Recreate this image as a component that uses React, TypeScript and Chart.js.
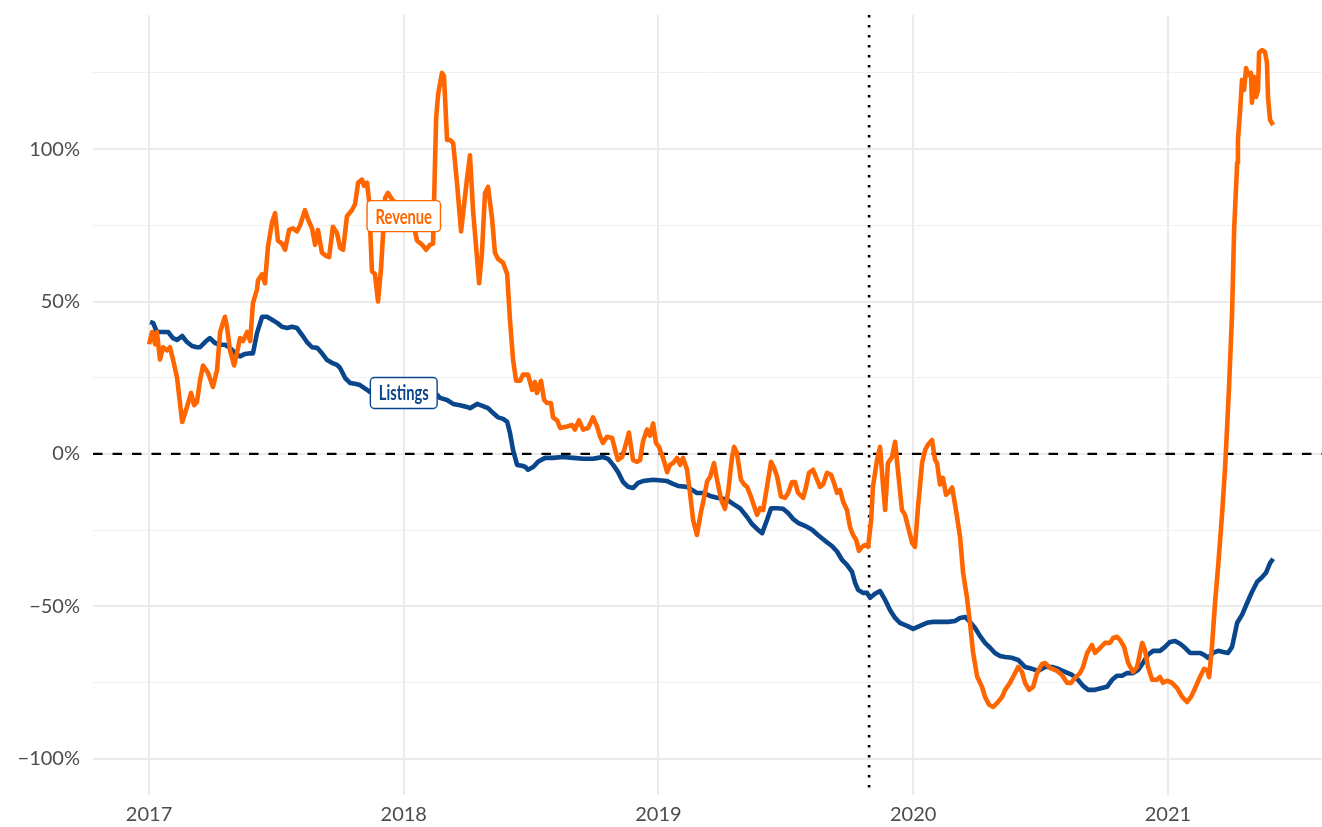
import { useEffect, useRef } from 'react';
import { Chart, registerables } from 'chart.js';

Chart.register(...registerables);

// ---- data (dates as decimal years, values in %) ----
const revenueDates = [
  2017.000, 2017.012, 2017.024, 2017.031, 2017.043, 2017.055, 2017.071, 2017.082, 2017.094, 2017.110,
  2017.130, 2017.149, 2017.165, 2017.177, 2017.188, 2017.200, 2017.212, 2017.232, 2017.251, 2017.267,
  2017.279, 2017.298, 2017.306, 2017.318, 2017.334, 2017.345, 2017.357, 2017.369, 2017.385, 2017.397,
  2017.408, 2017.424, 2017.428, 2017.444, 2017.455, 2017.467, 2017.483, 2017.495, 2017.506, 2017.522,
  2017.534, 2017.550, 2017.565, 2017.581, 2017.593, 2017.612, 2017.624, 2017.640, 2017.652, 2017.663,
  2017.679, 2017.695, 2017.707, 2017.722, 2017.738, 2017.750, 2017.762, 2017.777, 2017.797, 2017.809,
  2017.821, 2017.836, 2017.844, 2017.856, 2017.864, 2017.875, 2017.887, 2017.899, 2017.911, 2017.927,
  2017.938, 2017.958, 2017.985, 2018.013, 2018.036, 2018.052, 2018.072, 2018.088, 2018.103, 2018.115,
  2018.127, 2018.135, 2018.150, 2018.158, 2018.170, 2018.182, 2018.194, 2018.209, 2018.225, 2018.233,
  2018.248, 2018.260, 2018.272, 2018.288, 2018.296, 2018.307, 2018.319, 2018.331, 2018.347, 2018.358,
  2018.370, 2018.390, 2018.406, 2018.417, 2018.429, 2018.441, 2018.457, 2018.468, 2018.488, 2018.504,
  2018.515, 2018.523, 2018.539, 2018.551, 2018.563, 2018.578, 2018.586, 2018.602, 2018.614, 2018.641,
  2018.661, 2018.672, 2018.688, 2018.704, 2018.724, 2018.743, 2018.759, 2018.771, 2018.782, 2018.798,
  2018.818, 2018.830, 2018.841, 2018.857, 2018.869, 2018.884, 2018.900, 2018.916, 2018.928, 2018.939,
  2018.955, 2018.967, 2018.979, 2018.990, 2019.002, 2019.018, 2019.034, 2019.045, 2019.057, 2019.073,
  2019.085, 2019.096, 2019.112, 2019.124, 2019.136, 2019.151, 2019.167, 2019.175, 2019.191, 2019.203,
  2019.218, 2019.230, 2019.246, 2019.261, 2019.273, 2019.289, 2019.297, 2019.308, 2019.324, 2019.336,
  2019.348, 2019.363, 2019.375, 2019.387, 2019.399, 2019.411, 2019.426, 2019.442, 2019.454, 2019.466,
  2019.481, 2019.497, 2019.509, 2019.524, 2019.536, 2019.548, 2019.568, 2019.579, 2019.591, 2019.607,
  2019.623, 2019.634, 2019.646, 2019.662, 2019.678, 2019.689, 2019.701, 2019.713, 2019.725, 2019.740,
  2019.752, 2019.764, 2019.776, 2019.787, 2019.799, 2019.811, 2019.823, 2019.835, 2019.842, 2019.858,
  2019.870, 2019.882, 2019.890, 2019.901, 2019.917, 2019.929, 2019.941, 2019.956, 2019.968, 2019.980,
  2019.996, 2020.007, 2020.019, 2020.035, 2020.047, 2020.058, 2020.074, 2020.086, 2020.094, 2020.105,
  2020.117, 2020.129, 2020.141, 2020.153, 2020.168, 2020.184, 2020.196, 2020.211, 2020.223, 2020.235,
  2020.251, 2020.270, 2020.282, 2020.298, 2020.314, 2020.333, 2020.349, 2020.361, 2020.380, 2020.392,
  2020.412, 2020.427, 2020.439, 2020.455, 2020.471, 2020.486, 2020.506, 2020.518, 2020.537, 2020.565,
  2020.584, 2020.604, 2020.620, 2020.635, 2020.655, 2020.667, 2020.683, 2020.702, 2020.714, 2020.734,
  2020.753, 2020.773, 2020.785, 2020.800, 2020.812, 2020.828, 2020.844, 2020.863, 2020.879, 2020.899,
  2020.910, 2020.922, 2020.938, 2020.957, 2020.969, 2020.981, 2020.997, 2021.016, 2021.036, 2021.056,
  2021.075, 2021.091, 2021.107, 2021.126, 2021.142, 2021.154, 2021.162, 2021.173, 2021.185, 2021.197,
  2021.213, 2021.224, 2021.232, 2021.240, 2021.252, 2021.260, 2021.272, 2021.275, 2021.283, 2021.291,
  2021.299, 2021.307, 2021.315, 2021.326, 2021.330, 2021.338, 2021.346, 2021.354, 2021.358, 2021.370,
  2021.381, 2021.389, 2021.393, 2021.401, 2021.413,
];

const revenueValues = [
  36, 40, 36, 40, 31, 35, 34, 35, 31, 25,
  10.5, 15.4, 20, 16, 17, 24, 29, 26.5, 22, 27.5,
  40, 45, 41.7, 34, 29, 33, 38, 37, 40, 37,
  49.5, 54, 57, 59, 56, 68, 76, 79, 70, 69,
  67, 73.5, 74, 73, 75, 80, 77, 74, 68.6, 73.5,
  66, 65, 64.6, 74.5, 72.5, 67.6, 67, 78, 80, 82,
  89, 90, 88, 89, 83, 60, 59, 50, 61, 84,
  85.6, 83, 82, 82, 76, 70, 68.6, 67, 68.6, 69,
  110, 118, 125, 124, 103, 103, 102, 89, 73, 79,
  90, 98, 80, 64, 56, 66, 85.6, 87.6, 77, 66,
  64, 62.7, 59, 44, 31, 24, 24, 26, 26, 21,
  23.6, 20, 24, 17.7, 16.7, 16.7, 12, 11, 8.5, 9,
  9.5, 8, 11, 8, 8.5, 12, 9, 5.6, 3.6, 5.6,
  5.2, 1.3, -2, -1, 2.3, 7, -2, -2.6, -2, 4,
  8, 6, 10, 3.6, 2.3, -1.3, -6, -3.6, -3, -1.3,
  -3.6, -1.3, -5, -13, -21.7, -26.6, -19, -16, -9, -7.5,
  -3, -8.5, -15, -18, -12.8, -1, 2.3, 0.3, -8.5, -10,
  -10.8, -14, -17, -20, -17.8, -18.4, -10.8, -2.6, -4.6, -7.5,
  -14, -14.4, -12.8, -9.2, -9.2, -12.8, -14.4, -11, -6.2, -5.2,
  -8.5, -10.8, -10, -6.2, -6.9, -9.5, -12.8, -11.8, -15.7, -18.4,
  -24, -26.6, -28.2, -31.8, -30.5, -29.9, -30.5, -21.7, -10.8, -2,
  2.3, -10.8, -18.4, -3, -1, 4, -6.2, -18.4, -20, -24,
  -29.2, -30.5, -17.4, -3, 1.3, 3, 4.6, -2, -3, -10,
  -7.9, -13.4, -12.5, -11, -18.4, -27.2, -39, -47, -55.4, -65,
  -73, -76.4, -79.7, -82.3, -83, -81.4, -79.7, -77.4, -75.1, -73.2,
  -69.9, -71.5, -75.1, -77.4, -76.4, -71.9, -68.9, -68.6, -70.2, -71.2,
  -72.5, -75.1, -75.1, -73.5, -71.9, -69.9, -65.3, -62.7, -65.3, -63.6,
  -62, -62, -60.4, -60, -61, -63.3, -68.6, -71.5, -69.9, -62,
  -64.3, -69.9, -74.1, -74.1, -73.2, -75.1, -74.4, -75.1, -76.8, -79.7,
  -81.4, -79.7, -76.8, -73.2, -70.5, -70.9, -73.2, -63.3, -48.9, -37.1,
  -19.4, -5.2, 7.9, 22, 46.3, 73.5, 95.5, 103, 111.9, 122.7,
  119.4, 126.6, 124.3, 125, 115.2, 123.7, 117.1, 119.4, 131.6, 132.5,
  131.9, 128.3, 117.1, 109.6, 107.9,
];

const listingsDates = [
  2017.004, 2017.016, 2017.031, 2017.055, 2017.075, 2017.094, 2017.110, 2017.130, 2017.149, 2017.169,
  2017.188, 2017.200, 2017.220, 2017.239, 2017.259, 2017.279, 2017.298, 2017.318, 2017.338, 2017.357,
  2017.377, 2017.397, 2017.408, 2017.424, 2017.444, 2017.463, 2017.483, 2017.503, 2017.522, 2017.542,
  2017.561, 2017.581, 2017.601, 2017.620, 2017.640, 2017.660, 2017.679, 2017.699, 2017.718, 2017.738,
  2017.750, 2017.770, 2017.789, 2017.809, 2017.828, 2017.856, 2017.868, 2017.985, 2018.131, 2018.142,
  2018.170, 2018.194, 2018.221, 2018.248, 2018.260, 2018.288, 2018.311, 2018.331, 2018.351, 2018.370,
  2018.390, 2018.406, 2018.417, 2018.429, 2018.445, 2018.464, 2018.476, 2018.488, 2018.508, 2018.527,
  2018.555, 2018.586, 2018.625, 2018.665, 2018.704, 2018.743, 2018.763, 2018.782, 2018.802, 2018.822,
  2018.841, 2018.861, 2018.881, 2018.900, 2018.920, 2018.939, 2018.979, 2019.034, 2019.057, 2019.077,
  2019.112, 2019.132, 2019.151, 2019.175, 2019.203, 2019.230, 2019.250, 2019.269, 2019.293, 2019.320,
  2019.348, 2019.367, 2019.387, 2019.407, 2019.426, 2019.442, 2019.466, 2019.489, 2019.509, 2019.528,
  2019.548, 2019.575, 2019.603, 2019.626, 2019.654, 2019.681, 2019.701, 2019.721, 2019.740, 2019.760,
  2019.772, 2019.784, 2019.803, 2019.819, 2019.831, 2019.850, 2019.870, 2019.890, 2019.909, 2019.929,
  2019.948, 2019.976, 2020.000, 2020.027, 2020.054, 2020.078, 2020.105, 2020.137, 2020.164, 2020.184,
  2020.204, 2020.223, 2020.243, 2020.262, 2020.282, 2020.302, 2020.321, 2020.341, 2020.361, 2020.388,
  2020.412, 2020.439, 2020.467, 2020.490, 2020.518, 2020.545, 2020.569, 2020.596, 2020.624, 2020.647,
  2020.667, 2020.687, 2020.714, 2020.741, 2020.761, 2020.781, 2020.800, 2020.820, 2020.840, 2020.863,
  2020.883, 2020.902, 2020.922, 2020.942, 2020.969, 2020.989, 2021.008, 2021.028, 2021.048, 2021.067,
  2021.087, 2021.107, 2021.126, 2021.142, 2021.158, 2021.177, 2021.197, 2021.217, 2021.236, 2021.252,
  2021.272, 2021.291, 2021.311, 2021.330, 2021.350, 2021.370, 2021.385, 2021.401, 2021.413,
];

const listingsValues = [
  43.3, 43, 40, 40, 40, 38, 37.4, 38.7, 36.7, 35.4,
  35, 35, 36.7, 38, 36.4, 35.8, 35.8, 34.8, 33, 32,
  32.8, 33, 33, 39.7, 45, 45, 44, 43, 41.7, 41.3,
  41.7, 41.3, 39, 36.7, 35, 34.8, 33, 30.8, 29.9, 29.2,
  28.2, 24.9, 23.3, 23, 22.6, 21, 20.3, 20, 19.4, 18.4,
  17.7, 16.4, 16, 15.4, 15, 16.4, 15.7, 15, 13.4, 12,
  11.5, 10.5, 6.9, 1.3, -3.6, -3.9, -4.2, -5.2, -4.3, -2.6,
  -1.3, -1.3, -1, -1.3, -1.6, -1.6, -1.3, -1, -1.6, -3.6,
  -5.9, -9.2, -10.8, -11.2, -9.5, -8.9, -8.5, -8.9, -9.8, -10.5,
  -10.8, -11.8, -12.8, -12.8, -13.8, -14.4, -14.6, -15, -16.4, -17.8,
  -20.7, -23, -24.6, -26, -21.7, -17.8, -17.8, -18, -19.4, -21.3,
  -22.6, -23.6, -24.9, -26.6, -28.5, -30.2, -32, -34.8, -36.4, -38.7,
  -42.3, -44.6, -45.6, -45.6, -47.2, -45.9, -45, -47.9, -51.2, -53.8,
  -55.4, -56.4, -57.4, -56.4, -55.4, -55.1, -55.1, -55.1, -54.8, -53.8,
  -53.5, -55.1, -57.1, -59.7, -62, -63.6, -65.3, -66.3, -66.6, -66.9,
  -67.6, -69.9, -70.5, -71.2, -69.9, -69.9, -70.5, -71.5, -72.5, -74.1,
  -76.1, -77.4, -77.4, -76.8, -76.4, -74.1, -72.8, -72.8, -71.9, -71.9,
  -70.9, -68.6, -65.9, -64.6, -64.6, -63.3, -61.7, -61.4, -62.3, -63.6,
  -65.3, -65.3, -65.3, -65.9, -66.9, -65.3, -64.6, -65, -65.3, -63.3,
  -55.4, -52.8, -48.9, -45.3, -42, -40.4, -39, -35.8, -34.4,
];

const seriesNames = ['Revenue', 'Listings'];
const seriesColors = ['#FF6600', '#0A468C'];
const labelDates = [2018.0, 2018.0];
const labelValues = [78, 20];

const yearTicks = [2017, 2018, 2019, 2020, 2021];
const percentTicks = [-100, -75, -50, -25, 0, 25, 50, 75, 100, 125];
const xMin = 2016.78;
const xMax = 2021.605;
const yMin = -111.9;
const yMax = 144;
const eventDate = 2019.827;

const TICK_FONT = 'Lato, "DejaVu Sans", sans-serif';

function roundRect(ctx: CanvasRenderingContext2D, x: number, y: number, w: number, h: number, r: number) {
  ctx.beginPath();
  ctx.moveTo(x + r, y);
  ctx.lineTo(x + w - r, y);
  ctx.arcTo(x + w, y, x + w, y + r, r);
  ctx.lineTo(x + w, y + h - r);
  ctx.arcTo(x + w, y + h, x + w - r, y + h, r);
  ctx.lineTo(x + r, y + h);
  ctx.arcTo(x, y + h, x, y + h - r, r);
  ctx.lineTo(x, y + r);
  ctx.arcTo(x, y, x + r, y, r);
  ctx.closePath();
}

const overlayPlugin = {
  id: 'overlay',
  beforeDatasetsDraw(chart: any) {
    const { ctx, chartArea: a, scales } = chart;
    const xs = scales.x;
    const ys = scales.y;
    ctx.save();
    ctx.beginPath();
    ctx.rect(a.left, a.top, a.right - a.left, a.bottom - a.top);
    ctx.clip();
    // zero reference line
    const y0 = ys.getPixelForValue(0);
    ctx.strokeStyle = '#000000';
    ctx.lineWidth = 2.2;
    ctx.setLineDash([9.5, 10]);
    ctx.beginPath();
    ctx.moveTo(a.left, y0);
    ctx.lineTo(a.right, y0);
    ctx.stroke();
    // event (dotted vertical)
    const xe = xs.getPixelForValue(eventDate);
    ctx.lineWidth = 2.6;
    ctx.setLineDash([2.6, 7.4]);
    ctx.beginPath();
    ctx.moveTo(xe, a.top);
    ctx.lineTo(xe, a.bottom);
    ctx.stroke();
    ctx.restore();
  },
  afterDatasetsDraw(chart: any) {
    const { ctx, scales } = chart;
    const xs = scales.x;
    const ys = scales.y;
    const fontSize = 21;
    const sx = 0.7;
    seriesNames.forEach((name, i) => {
      ctx.save();
      ctx.font = `bold ${fontSize}px Lato, "DejaVu Sans", sans-serif`;
      const tw = ctx.measureText(name).width * sx;
      const w = tw + 17;
      const h = 31;
      const cx = xs.getPixelForValue(labelDates[i]);
      const cy = ys.getPixelForValue(labelValues[i]);
      roundRect(ctx, cx - w / 2, cy - h / 2, w, h, 4);
      ctx.fillStyle = '#FFFFFF';
      ctx.fill();
      ctx.strokeStyle = seriesColors[i];
      ctx.lineWidth = 1.4;
      ctx.stroke();
      ctx.translate(cx, cy + fontSize * 0.355);
      ctx.scale(sx, 1);
      ctx.fillStyle = seriesColors[i];
      ctx.textAlign = 'center';
      ctx.textBaseline = 'alphabetic';
      ctx.fillText(name, 0, 0);
      ctx.restore();
    });
  },
};

export default function App() {
  const canvasRef = useRef<HTMLCanvasElement | null>(null);

  useEffect(() => {
    const canvas = canvasRef.current;
    if (!canvas) return;
    const chart = new Chart(canvas, {
      type: 'line',
      data: {
        datasets: [
          {
            label: seriesNames[0],
            data: revenueDates.map((d, i) => ({ x: d, y: revenueValues[i] })),
            borderColor: seriesColors[0],
            backgroundColor: seriesColors[0],
            borderWidth: 4.6,
            pointRadius: 0,
            tension: 0,
            fill: false,
            borderJoinStyle: 'round',
          },
          {
            label: seriesNames[1],
            data: listingsDates.map((d, i) => ({ x: d, y: listingsValues[i] })),
            borderColor: seriesColors[1],
            backgroundColor: seriesColors[1],
            borderWidth: 4.6,
            pointRadius: 0,
            tension: 0,
            fill: false,
            borderJoinStyle: 'round',
          },
        ],
      },
      options: {
        animation: false,
        responsive: false,
        devicePixelRatio: 1,
        events: [],
        layout: { padding: { top: 15, left: 0, right: 0, bottom: 0 } },
        plugins: {
          legend: { display: false },
          tooltip: { enabled: false },
          title: { display: false },
        },
        scales: {
          x: {
            type: 'linear',
            min: xMin,
            max: xMax,
            afterBuildTicks: (s: any) => {
              s.ticks = yearTicks.map((v) => ({ value: v }));
            },
            afterFit: (s: any) => {
              s.height = 32;
              s.paddingLeft = 0;
              s.paddingRight = 0;
            },
            border: { display: false },
            grid: { color: '#EBEBEB', lineWidth: 2, drawTicks: false },
            ticks: {
              autoSkip: false,
              maxRotation: 0,
              padding: 8,
              color: '#4D4D4D',
              font: { family: TICK_FONT, size: 20 },
              callback: (v: any) => String(v),
            },
          },
          y: {
            type: 'linear',
            min: yMin,
            max: yMax,
            afterBuildTicks: (s: any) => {
              s.ticks = percentTicks.map((v) => ({ value: v }));
            },
            afterFit: (s: any) => {
              s.width = 93;
              s.paddingTop = 0;
              s.paddingBottom = 0;
            },
            border: { display: false },
            grid: {
              drawTicks: false,
              color: (c: any) => (c.tick && c.tick.value % 50 === 0 ? '#EBEBEB' : '#F0F0F0'),
              lineWidth: (c: any) => (c.tick && c.tick.value % 50 === 0 ? 2 : 1),
            },
            ticks: {
              autoSkip: false,
              padding: 13,
              color: '#4D4D4D',
              font: { family: TICK_FONT, size: 20 },
              callback: (v: any) => {
                const n = Number(v);
                if (n % 50 !== 0) return '';
                return (n < 0 ? '\u2212' + Math.abs(n) : String(n)) + '%';
              },
            },
          },
        },
      },
      plugins: [overlayPlugin],
    } as any);
    return () => chart.destroy();
  }, []);

  return (
    <div style={{ position: 'absolute', left: 0, top: 0, width: 1322, height: 827, background: '#FFFFFF' }}>
      <canvas ref={canvasRef} width={1322} height={827} style={{ display: 'block', width: 1322, height: 827 }} />
    </div>
  );
}
